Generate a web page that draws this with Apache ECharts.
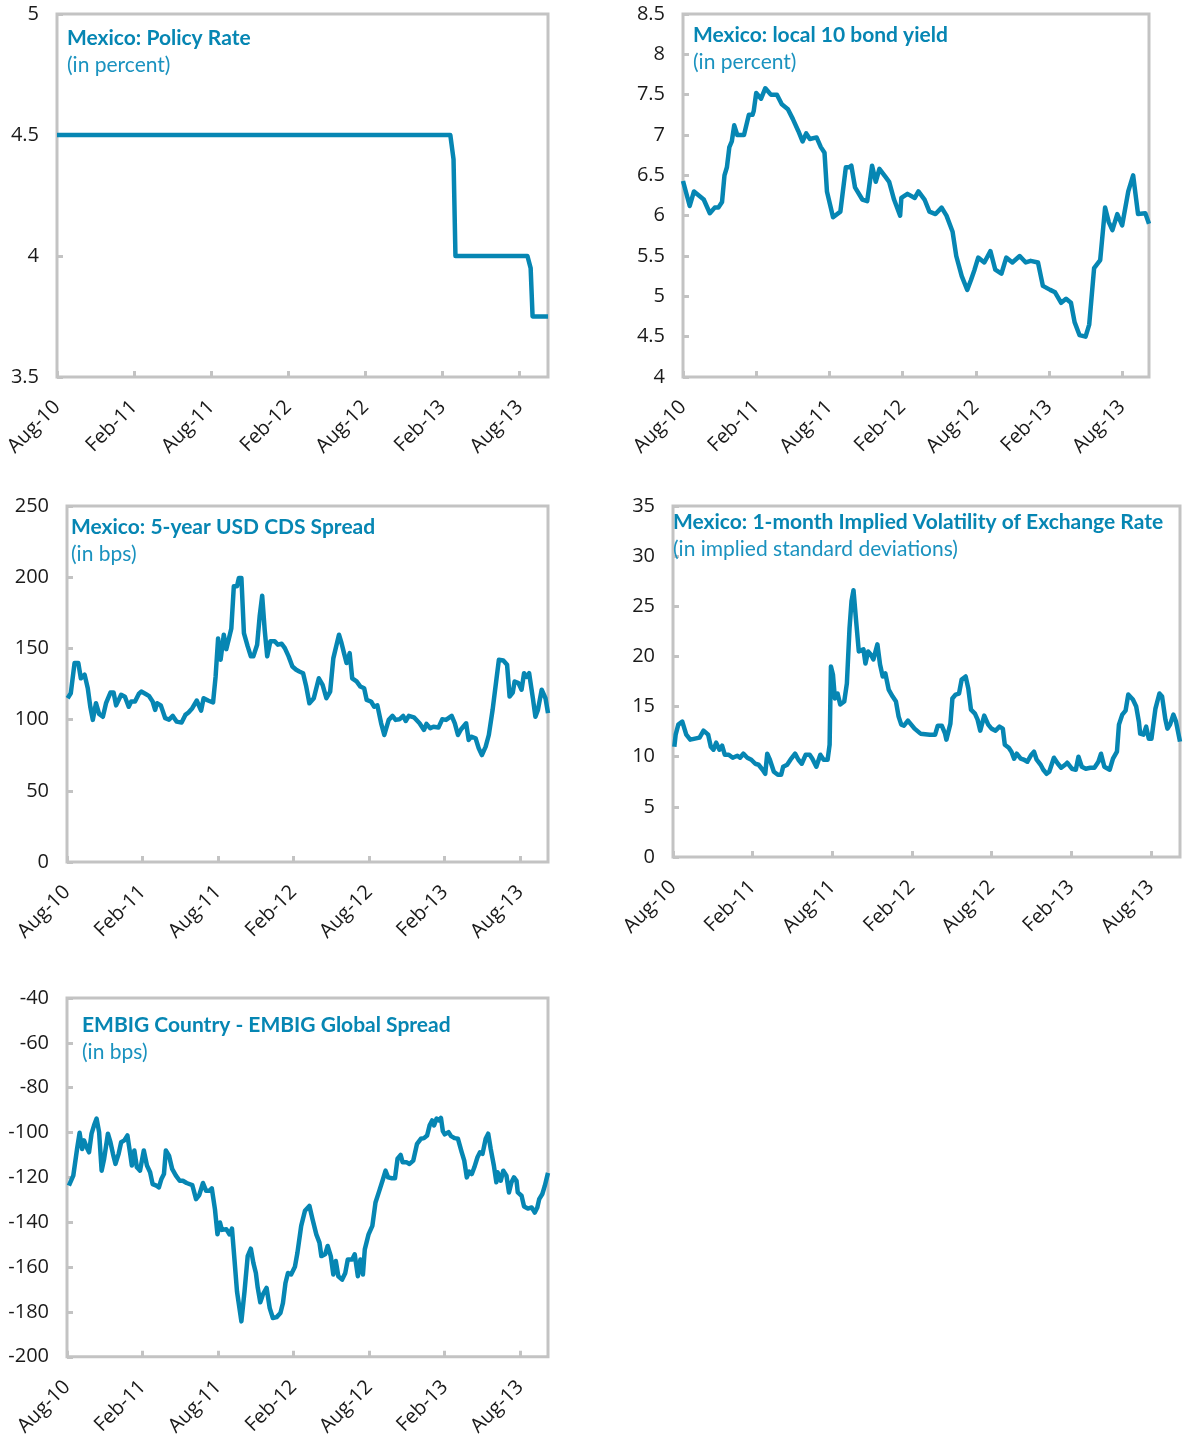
<!DOCTYPE html>
<html>
<head>
<meta charset="utf-8">
<script src="https://cdn.jsdelivr.net/npm/echarts@6/dist/echarts.min.js"></script>
<style>
  html, body { margin: 0; padding: 0; background: #fff; }
  #main { width: 1187px; height: 1439px; }
</style>
</head>
<body>
<div id="main"></div>
<script>
  // x positions are months since Aug-2010
  const tickLabels = ['Aug-10', 'Feb-11', 'Aug-11', 'Feb-12', 'Aug-12', 'Feb-13', 'Aug-13']

  const policyT = [0, 30.6, 30.85, 31.0, 36.6, 36.85, 37.0, 38.2]
  const policyRate = [4.5, 4.5, 4.4, 4.0, 4.0, 3.95, 3.75, 3.75]

  const bondT = [0, 0.55, 0.9, 1.3, 1.7, 2.2, 2.6, 2.9, 3.2, 3.4,
    3.6, 3.8, 4.0, 4.2, 4.45, 5.0, 5.4, 5.7, 5.8, 6.0,
    6.4, 6.75, 7.2, 7.7, 8.1, 8.6, 9.0, 9.45, 9.8, 10.1,
    10.4, 10.95, 11.3, 11.6, 11.8, 12.3, 12.9, 13.35, 13.6, 13.8,
    14.1, 14.7, 15.1, 15.5, 15.8, 16.1, 16.6, 16.9, 17.3, 17.8,
    17.9, 18.4, 19.0, 19.3, 19.8, 20.2, 20.7, 21.2, 21.6, 22.1,
    22.4, 22.85, 23.3, 23.6, 23.9, 24.2, 24.7, 25.2, 25.6, 26.1,
    26.5, 27.0, 27.6, 28.1, 28.5, 29.1, 29.5, 30.1, 30.5, 31.0,
    31.4, 31.8, 32.1, 32.5, 33.0, 33.3, 33.7, 34.2, 34.6, 34.9,
    35.2, 35.6, 36.0, 36.5, 36.9, 37.3, 37.9, 38.2]
  const bondYield = [6.43, 6.12, 6.3, 6.25, 6.2, 6.03, 6.1, 6.1, 6.17, 6.5,
    6.6, 6.85, 6.92, 7.12, 7.0, 7.0, 7.25, 7.25, 7.3, 7.52,
    7.45, 7.58, 7.5, 7.5, 7.38, 7.32, 7.2, 7.05, 6.92, 7.02,
    6.95, 6.97, 6.85, 6.78, 6.3, 5.98, 6.05, 6.6, 6.6, 6.62,
    6.35, 6.2, 6.18, 6.62, 6.42, 6.58, 6.48, 6.42, 6.2, 6.0,
    6.22, 6.27, 6.22, 6.3, 6.2, 6.05, 6.02, 6.1, 6.0, 5.8,
    5.5, 5.25, 5.08, 5.2, 5.33, 5.48, 5.42, 5.56, 5.33, 5.28,
    5.48, 5.42, 5.5, 5.42, 5.44, 5.42, 5.13, 5.08, 5.05, 4.92,
    4.97, 4.92, 4.68, 4.52, 4.5, 4.65, 5.35, 5.45, 6.1, 5.92,
    5.82, 6.02, 5.88, 6.3, 6.5, 6.02, 6.03, 5.9]

  const cdsT = [0.05, 0.3, 0.6, 0.9, 1.1, 1.4, 1.65, 1.85, 2.05, 2.3,
    2.55, 2.85, 3.1, 3.45, 3.7, 3.9, 4.3, 4.6, 4.9, 5.1,
    5.4, 5.7, 5.9, 6.25, 6.5, 6.8, 7.0, 7.15, 7.45, 7.8,
    8.1, 8.4, 8.7, 9.1, 9.4, 9.65, 9.95, 10.3, 10.65, 10.85,
    11.2, 11.6, 11.8, 12.0, 12.2, 12.45, 12.65, 12.85, 13.05, 13.25,
    13.5, 13.65, 13.85, 14.05, 14.35, 14.6, 14.8, 15.1, 15.3, 15.5,
    15.7, 15.9, 16.15, 16.5, 16.75, 17.05, 17.3, 17.6, 17.9, 18.2,
    18.45, 18.75, 19.0, 19.25, 19.6, 20.0, 20.3, 20.6, 20.9, 21.15,
    21.6, 21.8, 22.0, 22.2, 22.45, 22.65, 23.0, 23.3, 23.6, 23.8,
    24.15, 24.4, 24.65, 24.95, 25.2, 25.55, 25.85, 26.1, 26.4, 26.7,
    26.9, 27.15, 27.55, 28.0, 28.35, 28.55, 28.85, 29.1, 29.5, 29.8,
    30.1, 30.55, 30.8, 31.05, 31.3, 31.7, 31.9, 32.1, 32.45, 32.7,
    32.95, 33.25, 33.5, 33.8, 34.1, 34.3, 34.65, 34.95, 35.15, 35.4,
    35.55, 35.85, 36.1, 36.3, 36.5, 36.7, 37.0, 37.2, 37.4, 37.7,
    38.0, 38.2]
  const cdsSpread = [115, 118.5, 139.7, 139.7, 129, 131.5, 122, 109, 99.8, 111.5,
    104, 102, 111.5, 119, 119, 110, 117.4, 116, 109, 112.7,
    112.7, 118, 119.7, 118, 116.7, 112.7, 106.8, 111.5, 110, 101,
    100, 102.6, 98.6, 97.9, 103.3, 105, 108, 113.4, 106.3, 115,
    113.4, 112, 130, 157, 142, 159.6, 149.5, 156.6, 164, 193.7,
    193.7, 199.5, 199.5, 160.8, 151.4, 144.4, 144.4, 152.6, 172.5, 187,
    163, 144.4, 155, 155, 152.6, 153.3, 150.2, 144.4, 137.3, 135,
    133.8, 132.6, 123.2, 111.5, 115, 129, 124.4, 115, 119.7, 143,
    159.6, 153.8, 146.7, 139.7, 146.7, 129, 126.8, 123.2, 122, 113.8,
    112.7, 109, 110, 97.4, 89.2, 99.8, 102.6, 99.8, 100.2, 102.6,
    99, 102.6, 101.6, 97.4, 92.7, 97, 94, 95, 94.4, 100.2,
    99.8, 102.6, 97.4, 89.2, 93.2, 97.4, 85.7, 88, 86.9, 79.8,
    75.1, 81, 89.2, 106.8, 128, 142, 141.5, 138.5, 116.2, 119,
    126.8, 125.6, 121, 132.6, 130, 132.6, 115, 102, 106.8, 121,
    115, 104.5]

  const volT = [0.1, 0.2, 0.4, 0.7, 1.0, 1.3, 1.65, 2.0, 2.3, 2.65,
    2.85, 3.05, 3.25, 3.5, 3.7, 3.9, 4.2, 4.5, 4.85, 5.05,
    5.3, 5.6, 5.9, 6.2, 6.45, 6.75, 6.95, 7.1, 7.3, 7.6,
    7.9, 8.15, 8.3, 8.6, 8.85, 9.2, 9.45, 9.7, 10.0, 10.3,
    10.5, 10.8, 11.1, 11.35, 11.65, 11.8, 11.9, 12.05, 12.2, 12.4,
    12.6, 12.9, 13.1, 13.3, 13.45, 13.6, 13.8, 14.0, 14.15, 14.35,
    14.5, 14.7, 14.9, 15.1, 15.4, 15.6, 15.8, 16.0, 16.25, 16.55,
    16.8, 17.0, 17.2, 17.4, 17.7, 17.95, 18.2, 18.65, 19.35, 19.75,
    19.95, 20.25, 20.5, 20.6, 20.9, 21.05, 21.3, 21.55, 21.75, 22.05,
    22.25, 22.45, 22.75, 22.95, 23.15, 23.45, 23.75, 24.0, 24.3, 24.6,
    24.85, 25.0, 25.3, 25.5, 25.7, 25.9, 26.2, 26.45, 26.7, 27.0,
    27.2, 27.4, 27.7, 27.9, 28.15, 28.35, 28.7, 29.0, 29.25, 29.55,
    29.7, 30.05, 30.35, 30.55, 30.8, 31.1, 31.45, 31.75, 32.05, 32.25,
    32.5, 32.9, 33.15, 33.45, 33.6, 33.85, 34.1, 34.3, 34.65, 34.9,
    35.1, 35.2, 35.45, 35.65, 35.85, 36.05, 36.35, 36.65, 36.85, 37.1,
    37.25, 37.45, 37.7, 37.9, 38.2]
  const impliedVol = [11, 12.2, 13.2, 13.5, 12.2, 11.7, 11.8, 11.9, 12.6, 12.2,
    11, 10.7, 11.4, 10.7, 11.1, 10.2, 10.2, 9.9, 10.1, 9.9,
    10.3, 9.9, 9.7, 9.3, 9.2, 8.7, 8.3, 10.3, 9.7, 8.5,
    8.2, 8.2, 9, 9.2, 9.7, 10.3, 9.7, 9.3, 10.2, 10.2,
    9.8, 9, 10.2, 9.7, 9.7, 11.2, 19, 18.2, 15.8, 16.3,
    15.2, 15.5, 17.3, 22.8, 25.5, 26.6, 23.5, 20.5, 20.5, 20.7,
    19.3, 20.5, 20.2, 19.7, 21.2, 19.2, 18, 18.3, 16.7, 16,
    15.5, 14, 13.2, 13.1, 13.6, 13.2, 12.8, 12.3, 12.2, 12.2,
    13.1, 13.1, 12.3, 11.7, 13.3, 15.8, 16.2, 16.3, 17.7, 18,
    16.8, 14.7, 14.3, 13.7, 12.6, 14.1, 13.2, 12.8, 12.6, 13,
    12.8, 11.2, 10.9, 10.5, 9.8, 10.3, 9.8, 9.7, 9.5, 10.2,
    10.5, 9.7, 9.2, 8.7, 8.3, 8.5, 9.9, 9.3, 8.9, 9.2,
    9.4, 8.8, 8.7, 10, 9, 8.8, 8.9, 8.9, 9.5, 10.3,
    9, 8.7, 9.8, 10.5, 13.2, 14.2, 14.6, 16.2, 15.7, 15,
    13.5, 12.3, 12.2, 13, 11.8, 11.8, 14.8, 16.3, 16, 13.7,
    12.8, 13.2, 14.2, 13.5, 11.5]

  const embigT = [0.15, 0.5, 0.8, 1.0, 1.2, 1.35, 1.55, 1.75, 1.95, 2.15,
    2.35, 2.55, 2.75, 2.95, 3.25, 3.45, 3.65, 3.85, 4.1, 4.3,
    4.55, 4.8, 5.0, 5.15, 5.35, 5.55, 5.8, 6.1, 6.35, 6.6,
    6.8, 7.1, 7.3, 7.5, 7.7, 7.85, 8.1, 8.35, 8.65, 8.95,
    9.2, 9.5, 9.95, 10.25, 10.5, 10.8, 11.05, 11.3, 11.5, 11.75,
    11.95, 12.15, 12.3, 12.65, 12.9, 13.1, 13.3, 13.5, 13.85, 14.1,
    14.35, 14.6, 14.8, 15.0, 15.15, 15.35, 15.55, 15.85, 16.1, 16.35,
    16.65, 16.95, 17.15, 17.35, 17.55, 17.8, 18.1, 18.3, 18.6, 18.9,
    19.25, 19.5, 19.8, 20.05, 20.2, 20.5, 20.7, 20.95, 21.15, 21.35,
    21.55, 21.85, 22.1, 22.3, 22.65, 22.85, 23.1, 23.3, 23.5, 23.65,
    23.95, 24.25, 24.5, 24.8, 25.1, 25.3, 25.5, 25.8, 26.05, 26.25,
    26.5, 26.65, 26.95, 27.2, 27.5, 27.8, 28.1, 28.35, 28.6, 28.8,
    29.0, 29.15, 29.35, 29.55, 29.7, 29.85, 30.0, 30.3, 30.5, 30.8,
    31.05, 31.35, 31.55, 31.75, 31.95, 32.15, 32.35, 32.6, 32.8, 33.0,
    33.25, 33.45, 33.65, 33.9, 34.1, 34.2, 34.45, 34.65, 34.9, 35.1,
    35.3, 35.5, 35.7, 35.8, 36.1, 36.3, 36.6, 36.9, 37.15, 37.35,
    37.5, 37.75, 37.95, 38.2]
  const embigSpread = [-123.7, -119.2, -107.3, -100.1, -107.3, -103.5, -106.5, -108.8, -100.5, -96.8,
    -93.8, -99.8, -117, -111.7, -100.5, -104.3, -109.5, -114, -109.5, -104.3,
    -103.5, -101.3, -108.8, -114.7, -108, -115.5, -117, -108, -114.7, -117.7,
    -123, -123.7, -124.5, -120.7, -118.5, -108, -110.3, -116.2, -119.2, -121.5,
    -121.5, -122.5, -123.4, -129.7, -127.9, -122.5, -126, -126, -124.9, -134.2,
    -145.4, -140.1, -143.4, -143.1, -145.4, -142.8, -156.6, -170.8, -184.2, -170.8,
    -155.1, -151.8, -158.1, -162.6, -169.3, -175.7, -172.3, -169.3, -178.3, -182.7,
    -182.3, -180.5, -176, -167.1, -162.6, -163.3, -159.9, -153.6, -141.6, -134.9,
    -132.7, -138.7, -145.4, -149.1, -155.1, -154.3, -150.6, -155.1, -163.3, -157.3,
    -164.1, -165.6, -162.6, -156.6, -156.6, -154.3, -164.1, -156.6, -163.3, -152.1,
    -145.4, -141.6, -131.2, -126, -120.7, -117, -120, -120.4, -120.4, -111.7,
    -110, -113.2, -113.2, -114, -112.5, -105, -102.8, -102.5, -101.3, -96.8,
    -94.6, -96.8, -93.8, -94.6, -93.5, -99.4, -100.8, -99.8, -101.6, -102.5,
    -102.8, -108.8, -112.5, -120, -117.4, -118.5, -115.5, -111, -108.8, -109.5,
    -102.8, -100.5, -107.3, -114.7, -122.2, -117.7, -121.5, -117, -119.2, -126.7,
    -122.2, -120, -121.5, -126.7, -128.2, -133, -133.9, -133.4, -135.7, -133.4,
    -129.7, -127.4, -123.7, -118]

  const panels = [
    { title: 'Mexico: Policy Rate', sub: '(in percent)', t: policyT, v: policyRate,
      min: 3.5, max: 5, step: 0.5,
      grid: { left: 57, top: 14, width: 491, height: 363 }, titlePos: [67, 27] },
    { title: 'Mexico: local 10 bond yield', sub: '(in percent)', t: bondT, v: bondYield,
      min: 4, max: 8.5, step: 0.5,
      grid: { left: 683, top: 14, width: 466, height: 363 }, titlePos: [693, 24] },
    { title: 'Mexico: 5-year USD CDS Spread', sub: '(in bps)', t: cdsT, v: cdsSpread,
      min: 0, max: 250, step: 50,
      grid: { left: 67, top: 506, width: 481, height: 356 }, titlePos: [71, 516] },
    { title: 'Mexico: 1-month Implied Volatility of Exchange Rate', sub: '(in implied standard deviations)',
      t: volT, v: impliedVol, min: 0, max: 35, step: 5,
      grid: { left: 673, top: 506, width: 507, height: 351 }, titlePos: [673, 511] },
    { title: 'EMBIG Country - EMBIG Global Spread', sub: '(in bps)', t: embigT, v: embigSpread,
      min: -200, max: -40, step: 20,
      grid: { left: 67, top: 998, width: 481, height: 359 }, titlePos: [82, 1014] }
  ]

  const blue = '#0686b3'
  const frame = '#c3c3c3'
  const labelFont = { fontFamily: 'Open Sans', fontSize: 20, color: '#1a1a1a' }

  let chart = echarts.init(document.getElementById('main'))

  let option = {
    animation: false,
    backgroundColor: '#fff',
    title: [],
    grid: [],
    xAxis: [],
    yAxis: [],
    series: []
  }

  panels.forEach(function (p, i) {
    option.title.push({
      text: p.title,
      subtext: p.sub,
      left: p.titlePos[0],
      top: p.titlePos[1],
      padding: 0,
      itemGap: 5,
      textStyle: { fontFamily: 'Lato', fontWeight: 'bold', fontSize: 21, lineHeight: 22, color: blue },
      subtextStyle: { fontFamily: 'Lato', fontSize: 21, lineHeight: 22, color: '#1a92bf' }
    })
    option.grid.push(Object.assign({
      show: true,
      borderColor: frame,
      borderWidth: 3,
      backgroundColor: 'transparent'
    }, p.grid))
    option.xAxis.push({
      type: 'value',
      gridIndex: i,
      min: 0,
      max: 38.2,
      interval: 6,
      axisLine: { show: false },
      splitLine: { show: false },
      axisTick: { inside: true, length: 6, lineStyle: { color: frame, width: 3 } },
      axisLabel: Object.assign({
        rotate: 45,
        margin: 27,
        showMaxLabel: false,
        formatter: function (val) {
          return val % 6 === 0 ? tickLabels[val / 6] : ''
        }
      }, labelFont)
    })
    option.yAxis.push({
      type: 'value',
      gridIndex: i,
      min: p.min,
      max: p.max,
      interval: p.step,
      axisLine: { show: false },
      splitLine: { show: false },
      axisTick: { inside: true, length: 6, lineStyle: { color: frame, width: 3 } },
      axisLabel: Object.assign({ margin: 18 }, labelFont)
    })
    option.series.push({
      type: 'line',
      xAxisIndex: i,
      yAxisIndex: i,
      data: p.t.map(function (t, k) { return [t, p.v[k]] }),
      showSymbol: false,
      lineStyle: { color: blue, width: 4.5, join: 'round' }
    })
  })

  chart.setOption(option)
</script>
</body>
</html>
